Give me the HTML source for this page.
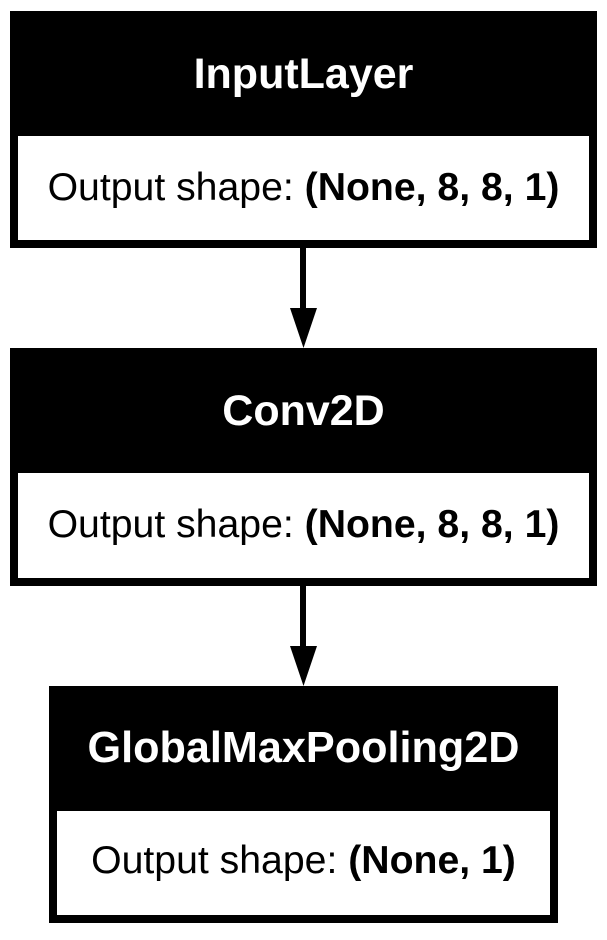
<!DOCTYPE html>
<html><head><style>
body{margin:0;background:#fff;width:607px;height:935px;overflow:hidden}
svg text{font-family:"Liberation Sans",Arial,sans-serif;text-anchor:middle}
</style></head><body>
<svg width="607" height="935" xmlns="http://www.w3.org/2000/svg">
<!-- box1 -->
<rect x="10" y="11" width="587" height="237" fill="#000"/>
<rect x="18" y="136" width="571" height="104" fill="#fff"/>
<text x="303.5" y="88" font-size="43" font-weight="bold" fill="#fff">InputLayer</text>
<text x="303.5" y="200" font-size="39.2"><tspan>Output shape: </tspan><tspan font-weight="bold">(None, 8, 8, 1)</tspan></text>
<!-- arrow1 -->
<rect x="300" y="248" width="6" height="62" fill="#000"/>
<polygon points="290,308 317,308 303.5,348" fill="#000"/>
<!-- box2 -->
<rect x="10" y="348" width="587" height="238" fill="#000"/>
<rect x="18" y="473" width="571" height="105" fill="#fff"/>
<text x="303.5" y="425" font-size="43" font-weight="bold" fill="#fff">Conv2D</text>
<text x="303.5" y="537" font-size="39.2"><tspan>Output shape: </tspan><tspan font-weight="bold">(None, 8, 8, 1)</tspan></text>
<!-- arrow2 -->
<rect x="300" y="586" width="6" height="62" fill="#000"/>
<polygon points="290,646 317,646 303.5,686" fill="#000"/>
<!-- box3 -->
<rect x="49" y="686" width="509" height="237" fill="#000"/>
<rect x="57" y="811" width="493" height="104" fill="#fff"/>
<text x="303.5" y="762" font-size="43.2" font-weight="bold" fill="#fff">GlobalMaxPooling2D</text>
<text x="303.5" y="873" font-size="39.2"><tspan>Output shape: </tspan><tspan font-weight="bold">(None, 1)</tspan></text>
</svg>
</body></html>
